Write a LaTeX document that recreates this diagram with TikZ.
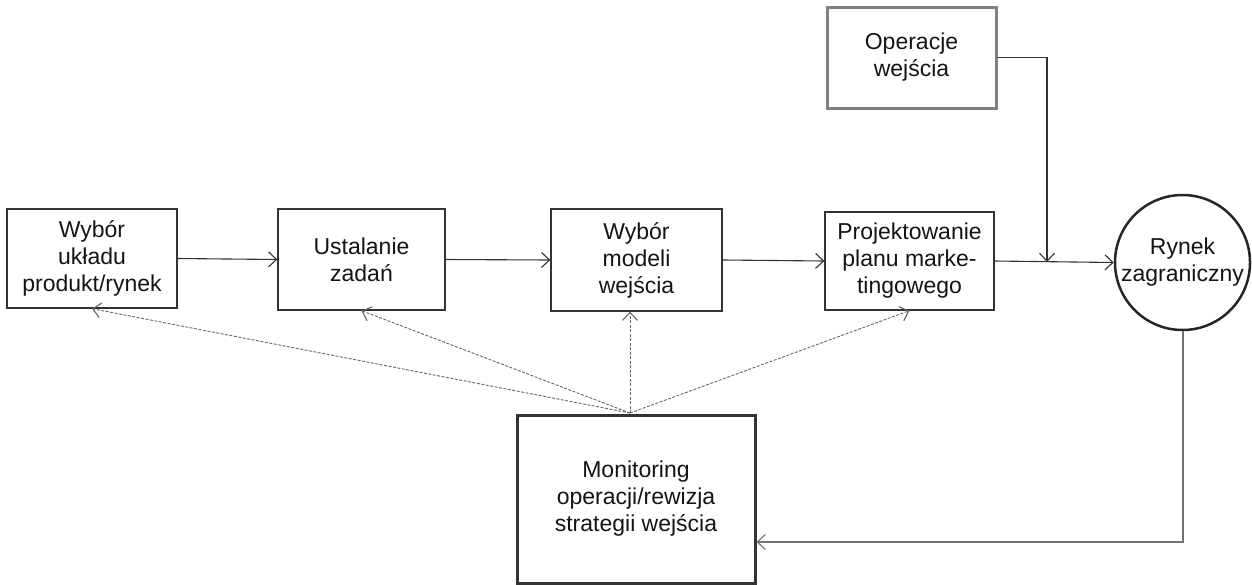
\documentclass[tikz,border=0pt]{standalone}
\usepackage{fontspec}
\setmainfont{Liberation Sans}
\usetikzlibrary{arrows.meta}
\begin{document}
\begin{tikzpicture}[x=1pt,y=-1pt,
  every node/.style={font=\fontsize{23}{27}\selectfont, text=black!92},
  box/.style={draw=black!80, line width=1.3pt, align=center, inner sep=0pt},
  tip/.style={-{Straight Barb[length=8pt,width=15pt,line width=1.1pt]}},
  arr/.style={draw=black!80, line width=1.1pt, tip},
  dots/.style={draw=black!60, line width=0.9pt, dash pattern=on 3pt off 1.5pt, tip},
  retline/.style={draw=black!55, line width=2pt, tip}]
\useasboundingbox (0,0) rectangle (1252,584);
\node[box, minimum width=170pt, minimum height=99pt] (b1) at (92,258.5) {Wybór\\układu\\produkt/rynek};
\node[box, minimum width=167pt, minimum height=101pt] (b2) at (361.5,259.5) {Ustalanie\\zadań};
\node[box, minimum width=171pt, minimum height=102pt] (b3) at (636.5,260) {Wybór\\modeli\\wejścia};
\node[box, minimum width=169pt, minimum height=98pt] (b4) at (909.5,261) {Projektowanie\\planu marke-\\tingowego};
\node[box, draw=black!50, line width=3pt, minimum width=169pt, minimum height=101pt] (op) at (911.5,57.5) {Operacje\\wejścia};
\node[draw=black!85, circle, line width=2.5pt, align=center, inner sep=0pt, minimum size=135pt] (rz) at (1182.5,262.5) {Rynek\\zagraniczny};
\node[box, line width=3pt, minimum width=238pt, minimum height=168pt] (mon) at (636,499) {Monitoring\\operacji/rewizja\\strategii wejścia};
\draw[arr] (b1.east) -- (b2.west);
\draw[arr] (b2.east) -- (b3.west);
\draw[arr] (b3.east) -- (b4.west);
\draw[arr] (b4.east) -- (rz.west);
\coordinate (j) at (1047,262);
\draw[arr] (op.east) -| (j);
\coordinate (ry) at (0,542);
\draw[retline] (rz.south) |- (mon.east |- ry);
\coordinate (c) at (630,413);
\draw[dots] (c) -- (b1.south);
\draw[dots] (c) -- (b2.south);
\draw[dots] (c) -- (b3.south -| c);
\draw[dots] (c) -- (b4.south);
\end{tikzpicture}
\end{document}
